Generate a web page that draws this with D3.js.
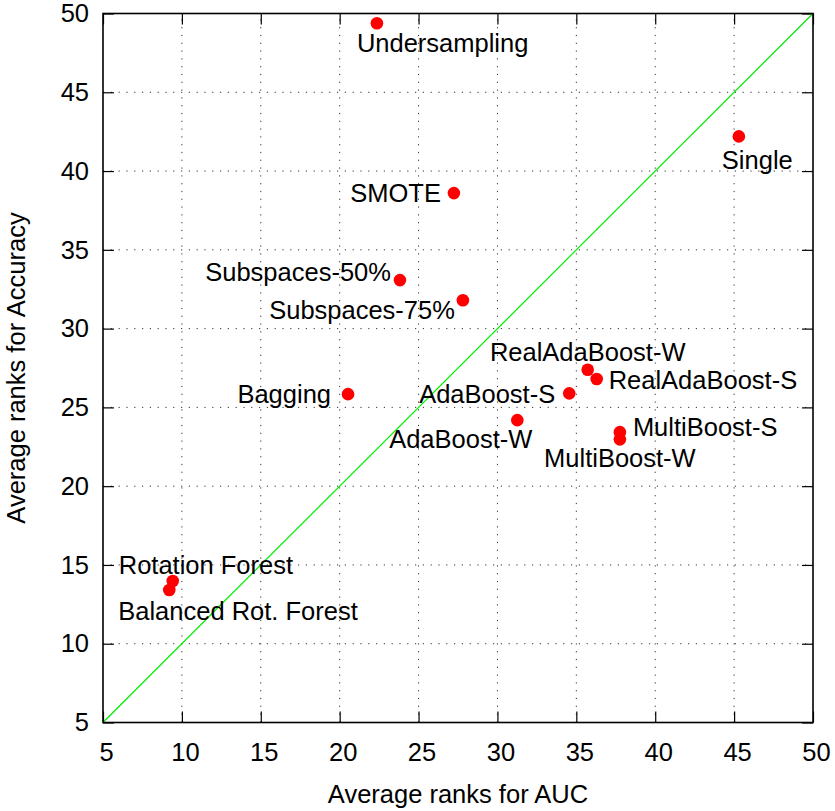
<!DOCTYPE html>
<html>
<head>
<meta charset="utf-8">
<script src="https://cdn.jsdelivr.net/npm/d3@7"></script>
<style>
  html, body { margin: 0; padding: 0; background: #fff; }
  svg text { font-family: "Liberation Sans", Arial, sans-serif; fill: #000; }
</style>
</head>
<body>
<svg id="chart" width="835" height="811"></svg>
<script>
// Method names and their average ranks (AUC on x, Accuracy on y)
const methods = [
  "Undersampling", "Single", "SMOTE", "Subspaces-50%", "Subspaces-75%",
  "Bagging", "RealAdaBoost-W", "RealAdaBoost-S", "AdaBoost-S", "AdaBoost-W",
  "MultiBoost-S", "MultiBoost-W", "Rotation Forest", "Balanced Rot. Forest"
];
const aucRanks = [22.36, 45.3, 27.24, 23.82, 27.81, 20.53, 35.72, 36.29, 34.55, 31.26, 37.76, 37.76, 9.42, 9.2];
const accuracyRanks = [49.38, 42.2, 38.6, 33.08, 31.8, 25.84, 27.39, 26.8, 25.89, 24.19, 23.43, 22.97, 13.98, 13.41];
const tickValues = [5, 10, 15, 20, 25, 30, 35, 40, 45, 50];

// Label placement per method: text anchor and pixel offset from the point
const labelAnchor = ["start", "start", "end", "end", "end", "end", "middle", "start", "end", "end", "start", "middle", "start", "start"];
const labelDx = [-20, -17, -13, -9, -8, -17, 0, 12, -14, 15, 13, 0, -54, -51];
const labelDy = [20, 24, 0, -8, 10, 0, -18, 1, 1, 19, -5, 19, -16, 21];

const svg = d3.select("#chart");
const plotLeft = 103, plotRight = 813, plotTop = 13.5, plotBottom = 722.5;
const fontSize = 25.5;

const x = d3.scaleLinear().domain([5, 50]).range([plotLeft, plotRight]);
const y = d3.scaleLinear().domain([5, 50]).range([plotBottom, plotTop]);

// Dotted grid at inner ticks
const inner = tickValues.slice(1, -1);
const grid = svg.append("g").attr("stroke", "#333").attr("stroke-width", 1)
  .attr("stroke-dasharray", "1.2,6.6");
grid.selectAll("line.v").data(inner).join("line").attr("class", "v")
  .attr("x1", d => x(d)).attr("x2", d => x(d)).attr("y1", plotBottom).attr("y2", plotTop);
grid.selectAll("line.h").data(inner).join("line").attr("class", "h")
  .attr("y1", d => y(d)).attr("y2", d => y(d)).attr("x1", plotLeft).attr("x2", plotRight);

// Axes with inward ticks on all four sides
function styleAxis(g) {
  g.select(".domain").remove();
  g.selectAll(".tick line").attr("stroke", "#000").attr("stroke-width", 1.2);
  g.selectAll(".tick text").attr("font-size", fontSize).attr("font-family", "Liberation Sans, Arial, sans-serif");
}
svg.append("g").attr("transform", `translate(0,${plotBottom})`)
  .call(d3.axisBottom(x).tickValues(tickValues).tickSize(-11).tickPadding(20.5))
  .call(styleAxis)
  .selectAll(".tick text").attr("dx", 3);
svg.append("g").attr("transform", `translate(${plotLeft},0)`)
  .call(d3.axisLeft(y).tickValues(tickValues).tickSize(-11).tickPadding(14))
  .call(styleAxis);
svg.append("g").attr("transform", `translate(0,${plotTop})`)
  .call(d3.axisTop(x).tickValues(tickValues).tickSize(-11).tickFormat(""))
  .call(styleAxis);
svg.append("g").attr("transform", `translate(${plotRight},0)`)
  .call(d3.axisRight(y).tickValues(tickValues).tickSize(-11).tickFormat(""))
  .call(styleAxis);

// Diagonal reference line (equal ranks)
svg.append("line")
  .attr("x1", x(5)).attr("y1", y(5)).attr("x2", x(50)).attr("y2", y(50))
  .attr("stroke", "#00ee00").attr("stroke-width", 1.2);

// Plot frame
svg.append("rect")
  .attr("x", plotLeft).attr("y", plotTop)
  .attr("width", plotRight - plotLeft).attr("height", plotBottom - plotTop)
  .attr("fill", "none").attr("stroke", "#000").attr("stroke-width", 1.6);

const rows = methods.map((m, i) => ({
  name: m, auc: aucRanks[i], acc: accuracyRanks[i],
  anchor: labelAnchor[i], dx: labelDx[i], dy: labelDy[i]
}));

// Labels
svg.append("g").selectAll("text").data(rows).join("text")
  .attr("x", d => x(d.auc) + d.dx)
  .attr("y", d => y(d.acc) + d.dy)
  .attr("dy", "0.35em")
  .attr("text-anchor", d => d.anchor)
  .attr("font-size", fontSize)
  .text(d => d.name);

// Points
svg.append("g").selectAll("circle").data(rows).join("circle")
  .attr("cx", d => x(d.auc)).attr("cy", d => y(d.acc)).attr("r", 6.3)
  .attr("fill", "#ff0000");

// Axis titles
svg.append("text")
  .attr("x", (plotLeft + plotRight) / 2).attr("y", 803)
  .attr("text-anchor", "middle").attr("font-size", fontSize)
  .text("Average ranks for AUC");
svg.append("text")
  .attr("transform", `translate(25,${(plotTop + plotBottom) / 2}) rotate(-90)`)
  .attr("text-anchor", "middle").attr("font-size", fontSize)
  .text("Average ranks for Accuracy");
</script>
</body>
</html>
